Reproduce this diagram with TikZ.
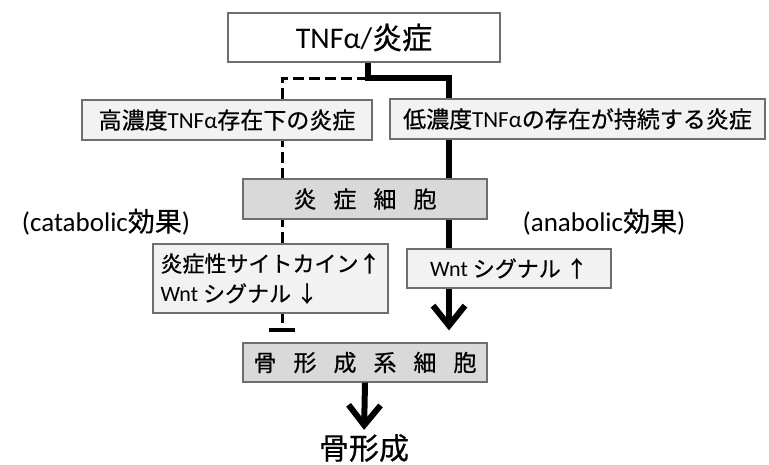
\documentclass[tikz,border=0pt]{standalone}
\usepackage{fontspec}
\setmainfont{Carlito}
\newfontfamily\cjk[FakeBold=0.6]{Noto Sans CJK JP}
\usetikzlibrary{arrows.meta}
\pgfdeclarelayer{bg}
\pgfsetlayers{bg,main}
\definecolor{bord}{HTML}{6E6E6E}
\definecolor{lightfill}{HTML}{F2F2F2}
\definecolor{darkfill}{HTML}{D9D9D9}
\newcommand\J[1]{{\cjk #1}}
\newcommand\gapp{\hspace{17pt}}
\begin{document}
\begin{tikzpicture}[x=1pt,y=-1pt,
  box/.style={draw=bord, line width=1.2pt, inner sep=0pt, minimum height=40pt, font=\fontsize{23}{28}\selectfont},
  lite/.style={box, fill=lightfill},
  darkbox/.style={box, fill=darkfill},
  thickline/.style={line width=6pt, draw=black},
  dashline/.style={line width=3pt, dash pattern=on 11pt off 5pt, draw=black},
  bigtext/.style={inner sep=0pt, font=\fontsize{27}{30}\selectfont},
  bigtip/.style={-{Straight Barb[length=20pt, width=32pt]}}
]
\useasboundingbox (0,0) rectangle (769,464);

\node[box, fill=white, minimum width=272pt, minimum height=49pt, font=\fontsize{30}{34}\selectfont] (top) at (364,37.5) {TNFα/\J{炎症}};
\node[lite, minimum width=290pt] (high) at (227,120) {\J{高濃度}TNFα\J{存在下の炎症}};
\node[lite, minimum width=375pt] (low) at (577.5,119) {\J{低濃度}TNFα\J{の存在が持続する炎症}};
\node[darkbox, minimum width=244pt] (cell) at (365,199) {\J{炎\gapp 症\gapp 細\gapp 胞}};
\node[bigtext] (cat) at (106,222) {(catabolic\J{効果})};
\node[bigtext] (ana) at (604,222) {(anabolic\J{効果})};
\node[lite, minimum width=235pt, minimum height=69pt, align=left, font=\fontsize{22}{30}\selectfont] (cyto) at (270.5,278.5) {\J{炎症性サイトカイン↑}\\Wnt \J{シグナル ↓}};
\node[lite, minimum width=204pt, minimum height=39pt, font=\fontsize{22}{28}\selectfont] (wnt) at (509,268.5) {Wnt \J{シグナル ↑}};
\node[darkbox, minimum width=244pt, minimum height=39pt] (bone) at (365,362.5) {\J{骨\gapp 形\gapp 成\gapp 系\gapp 細\gapp 胞}};
\node[inner sep=0pt, font=\fontsize{30}{34}\selectfont] (bonef) at (364,448) {\J{骨形成}};

\coordinate (split) at (368,78);
\coordinate (rt) at (449,78);
\coordinate (lt) at (282,78);

\begin{pgfonlayer}{bg}
\draw[dashline, -{Bar[width=26pt, line width=4pt]}, shorten >=10pt] (split) -- (lt) -- (lt |- bone.north);
\draw[thickline, bigtip, shorten >=12pt] (split |- top.south) -- (split) -- (rt) -- (rt |- bone.north);
\end{pgfonlayer}
\draw[thickline, bigtip, shorten >=4pt] (bone.south) -- (bonef.north);
\end{tikzpicture}
\end{document}
